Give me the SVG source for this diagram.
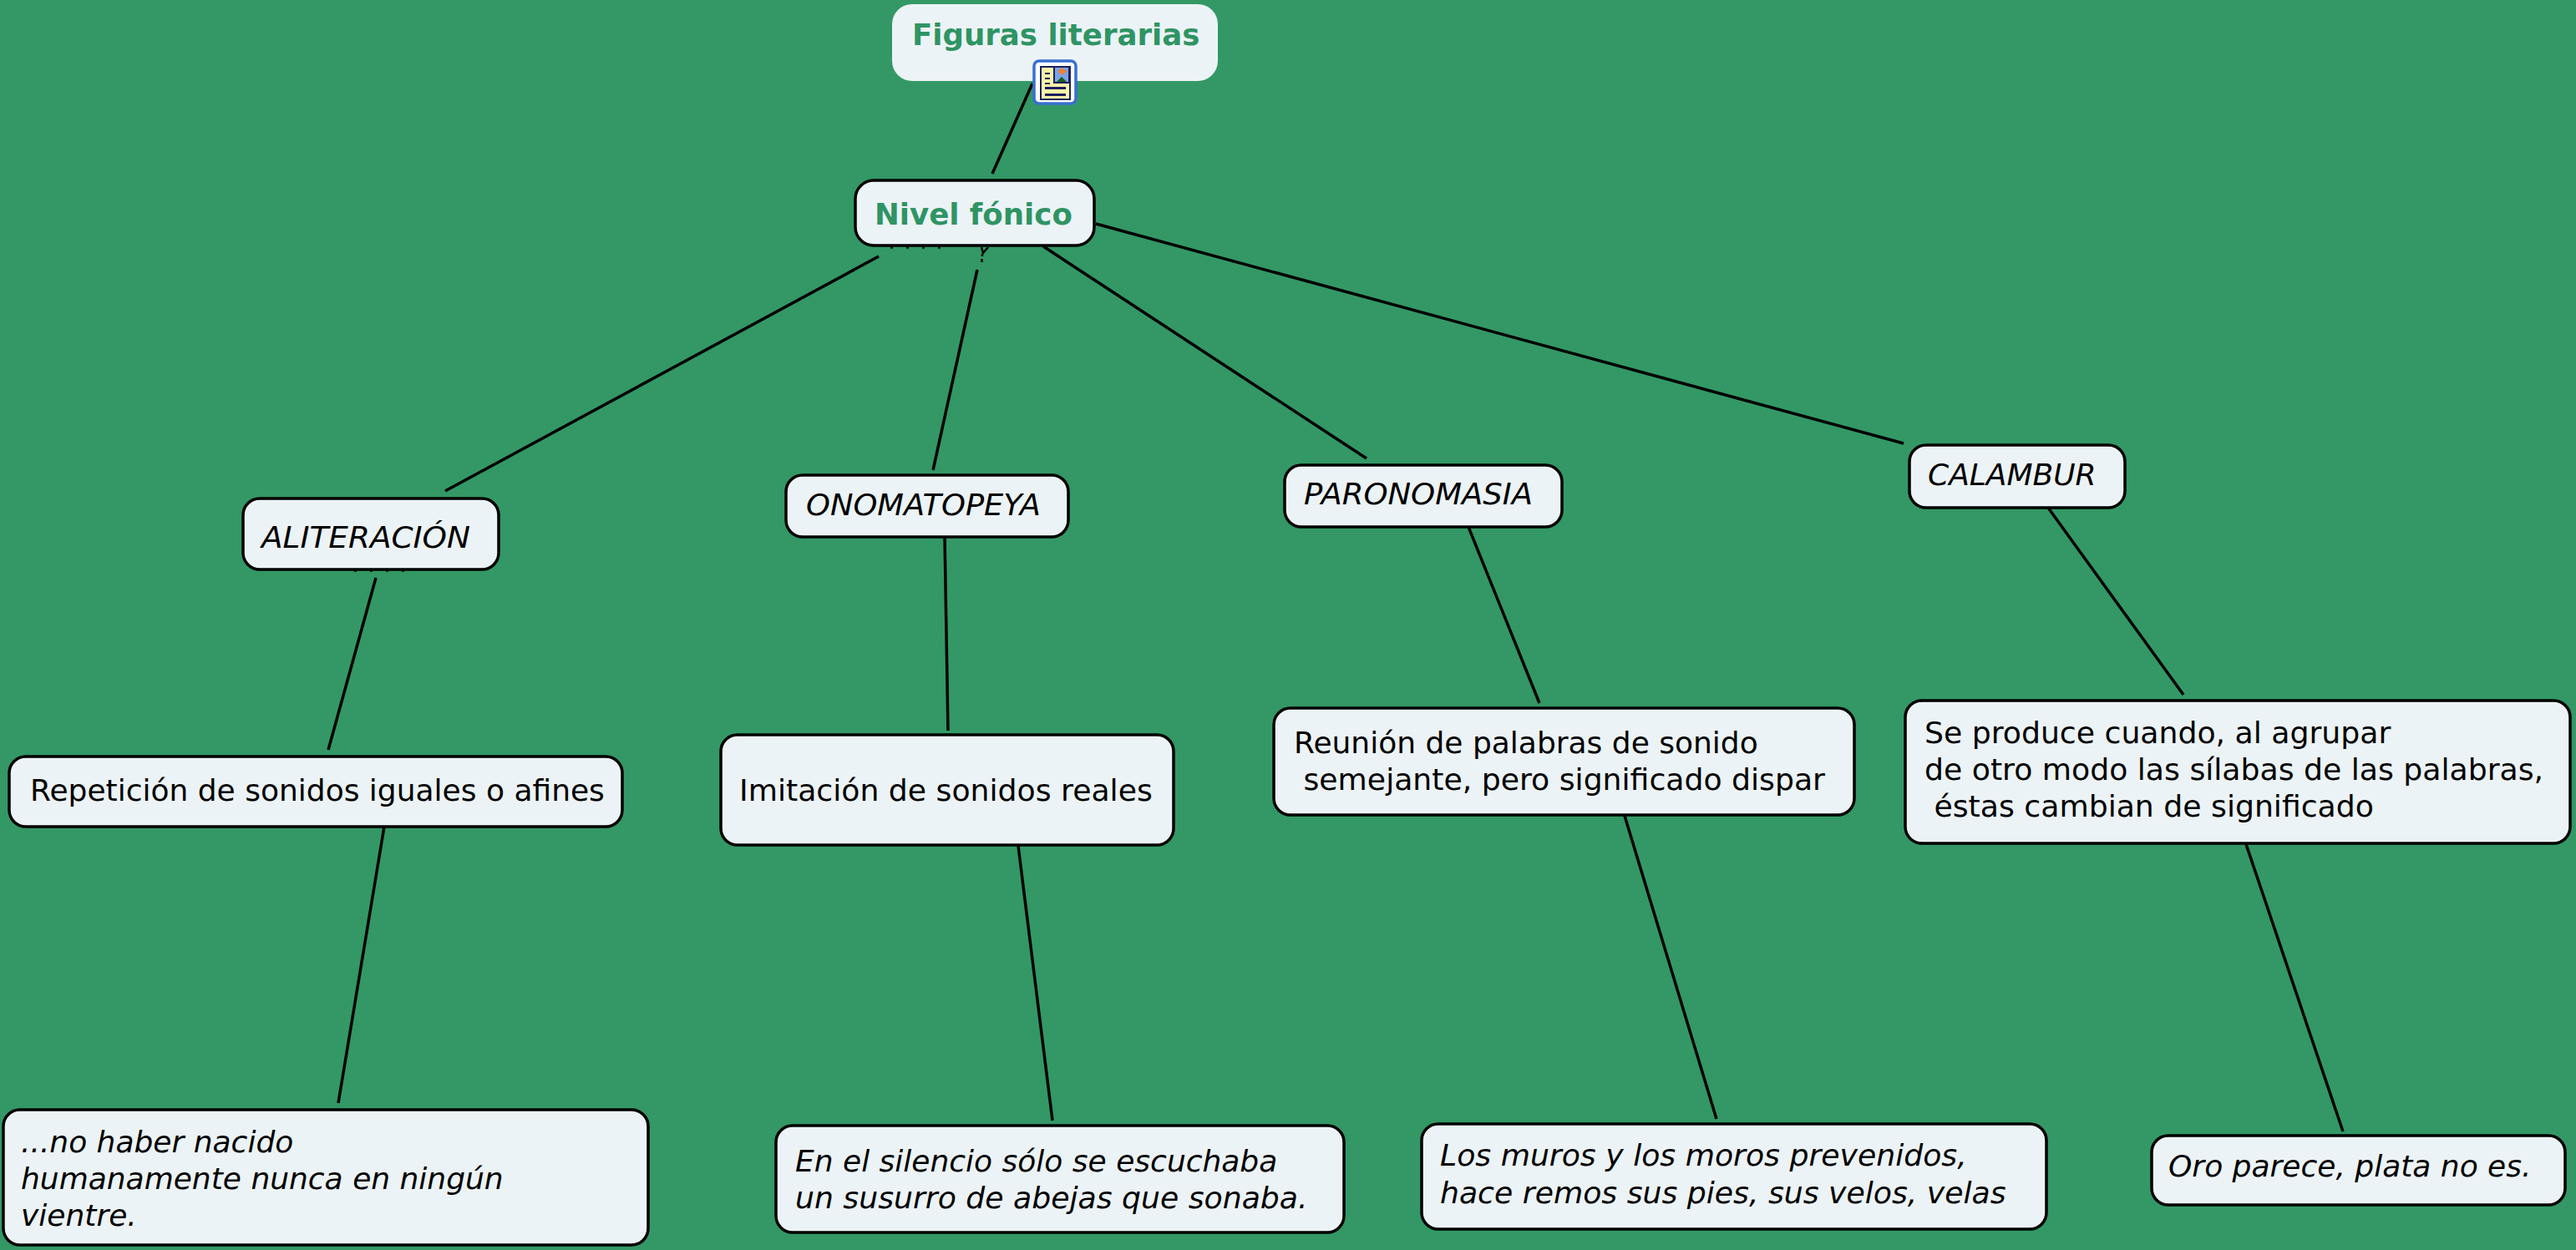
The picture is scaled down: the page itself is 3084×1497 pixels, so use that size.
<svg xmlns="http://www.w3.org/2000/svg" width="3084" height="1497" viewBox="0 0 3084 1497">
<style>
.box{fill:#ecf3f6;stroke:#000;stroke-width:3.5}
.root{fill:#ecf3f6;stroke:none}
.t{font-family:"DejaVu Sans",Verdana,sans-serif;font-size:36px;fill:#000}
.i{font-style:italic}
.w{font-size:36.2px}
.b{font-weight:bold;fill:#2f9464;font-size:35.6px}
.c line{stroke:#000;stroke-width:3.5}
.c path{fill:none;stroke:#000;stroke-width:2.5}
</style>
<rect width="3084" height="1497" fill="#339865"/>
<g id="connectors" class="c">
<line x1="1236" y1="100" x2="1188" y2="208"/>
<line x1="1052" y1="307" x2="533" y2="588"/>
<line x1="1170" y1="323" x2="1117" y2="563"/>
<line x1="1249" y1="295" x2="1636" y2="549"/>
<line x1="1312" y1="268" x2="2279" y2="531"/>
<line x1="450" y1="692" x2="393" y2="898"/>
<line x1="460" y1="990" x2="405" y2="1321"/>
<line x1="1131" y1="643" x2="1135" y2="875"/>
<line x1="1219" y1="1013" x2="1260" y2="1342"/>
<line x1="1758" y1="631" x2="1843" y2="842"/>
<line x1="1945" y1="977" x2="2055" y2="1340"/>
<line x1="2452" y1="608" x2="2614" y2="832"/>
<line x1="2689" y1="1011" x2="2805" y2="1355"/>
<path d="M1175 296l2 7 6-7M1176 304v3M1175.500 310v4"/>
<path stroke-dasharray="3 16" d="M1066 296.500h68M424 683.500h64"/>
</g>
<g id="root"><rect class="root" x="1068" y="5" width="390" height="92" rx="24"/><text class="t b" x="1092" y="54">Figuras literarias</text></g>
<g id="icon">
<rect x="1238" y="73" width="50" height="51" rx="6" fill="#fff" stroke="#3a6fd0" stroke-width="3.500"/>
<rect x="1245" y="79" width="37" height="41" fill="#1c1f5c"/>
<rect x="1247" y="81" width="33" height="37" fill="#fbf4a8"/>
<rect x="1261" y="79" width="20" height="21" fill="#1c1f5c"/>
<rect x="1263" y="81" width="16" height="17" fill="#7da3e8"/>
<path d="M1265 98l6-6 6 6z" fill="#1a5a1a"/>
<path d="M1269 82h5v2h3v3h-3v2h-5v-2h-2v-3h2z" fill="#e8833a"/>
<path d="M1251 87h6v2h-6zM1251 93h6v2h-6zM1251 99h6v2h-6zM1251 104h25v3h-25zM1251 112h25v3h-25z" fill="#1c1f5c"/>
</g>
<g id="nivel"><rect class="box" x="1024" y="216" width="286" height="78" rx="22"/><text class="t b" x="1047" y="269">Nivel fónico</text></g>
<g id="aliteracion"><rect class="box" x="291" y="597" width="306" height="85" rx="20"/><text class="t i" x="313" y="656" textLength="250" lengthAdjust="spacingAndGlyphs">ALITERACIÓN</text></g>
<g id="repeticion"><rect class="box" x="11" y="906" width="734" height="84" rx="20"/><text class="t" x="36" y="959">Repetición de sonidos iguales o afines</text></g>
<g id="nohaber"><rect class="box" x="4" y="1329" width="772" height="162" rx="20"/><text class="t i"><tspan x="25" y="1380">...no haber nacido</tspan><tspan x="25" y="1424">humanamente nunca en ningún</tspan><tspan x="25" y="1468">vientre.</tspan></text></g>
<g id="onomatopeya"><rect class="box" x="941" y="569" width="338" height="74" rx="20"/><text class="t i" x="965" y="617" textLength="281" lengthAdjust="spacingAndGlyphs">ONOMATOPEYA</text></g>
<g id="imitacion"><rect class="box" x="863" y="880" width="542" height="132" rx="20"/><text class="t w" x="885" y="959">Imitación de sonidos reales</text></g>
<g id="silencio"><rect class="box" x="929" y="1348" width="680" height="128" rx="20"/><text class="t i"><tspan x="952" y="1403">En el silencio sólo se escuchaba</tspan><tspan class="w" x="952" y="1447">un susurro de abejas que sonaba.</tspan></text></g>
<g id="paronomasia"><rect class="box" x="1538" y="557" width="332" height="74" rx="20"/><text class="t i" x="1561" y="604" textLength="274" lengthAdjust="spacingAndGlyphs">PARONOMASIA</text></g>
<g id="reunion"><rect class="box" x="1525" y="848" width="695" height="128" rx="20"/><text class="t" xml:space="preserve"><tspan x="1549" y="902">Reunión de palabras de sonido</tspan><tspan class="w" x="1549" y="946"> semejante, pero significado dispar</tspan></text></g>
<g id="muros"><rect class="box" x="1702" y="1346" width="748" height="126" rx="20"/><text class="t i w"><tspan x="1724" y="1396">Los muros y los moros prevenidos,</tspan><tspan x="1724" y="1441">hace remos sus pies, sus velos, velas</tspan></text></g>
<g id="calambur"><rect class="box" x="2286" y="533" width="258" height="75" rx="20"/><text class="t i" x="2308" y="581">CALAMBUR</text></g>
<g id="seproduce"><rect class="box" x="2281" y="839" width="796" height="171" rx="20"/><text class="t w" xml:space="preserve"><tspan x="2304" y="890">Se produce cuando, al agrupar</tspan><tspan x="2304" y="934">de otro modo las sílabas de las palabras,</tspan><tspan x="2304" y="978"> éstas cambian de significado</tspan></text></g>
<g id="oro"><rect class="box" x="2576" y="1360" width="495" height="83" rx="20"/><text class="t i" x="2596" y="1409">Oro parece, plata no es.</text></g>
</svg>
